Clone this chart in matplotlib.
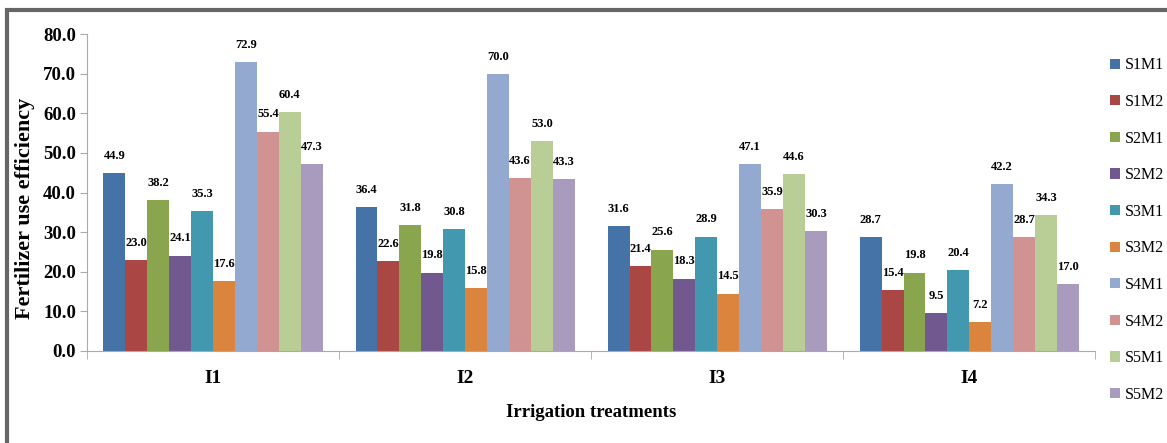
import numpy as np
import matplotlib
matplotlib.use("Agg")
import matplotlib.pyplot as plt
from matplotlib.patches import Rectangle

treatments = ["I1", "I2", "I3", "I4"]
series = ["S1M1", "S1M2", "S2M1", "S2M2", "S3M1", "S3M2", "S4M1", "S4M2", "S5M1", "S5M2"]
S1M1 = [44.9, 36.4, 31.6, 28.7]
S1M2 = [23.0, 22.6, 21.4, 15.4]
S2M1 = [38.2, 31.8, 25.6, 19.8]
S2M2 = [24.1, 19.8, 18.3, 9.5]
S3M1 = [35.3, 30.8, 28.9, 20.4]
S3M2 = [17.6, 15.8, 14.5, 7.2]
S4M1 = [72.9, 70.0, 47.1, 42.2]
S4M2 = [55.4, 43.6, 35.9, 28.7]
S5M1 = [60.4, 53.0, 44.6, 34.3]
S5M2 = [47.3, 43.3, 30.3, 17.0]
values = [S1M1, S1M2, S2M1, S2M2, S3M1, S3M2, S4M1, S4M2, S5M1, S5M2]

colors = ["#4572A7", "#AA4643", "#89A54E", "#71588F", "#4198AF",
          "#DB843D", "#93A9CF", "#D19392", "#B9CD96", "#A99BBD"]

plt.rcParams['font.family'] = ['Liberation Serif', 'DejaVu Serif']

fig = plt.figure(figsize=(11.67, 4.43), dpi=100)
ax = fig.add_axes([0.0746, 0.2077, 0.864, 0.7153])

n = len(series)
width = 0.087
x = np.arange(len(treatments))
for i, (name, vals, c) in enumerate(zip(series, values, colors)):
    pos = x + (i - (n - 1) / 2) * width
    bars = ax.bar(pos, vals, width, color=c, label=name)
    for b, v in zip(bars, vals):
        ax.annotate(f"{v:.1f}", (b.get_x() + b.get_width() / 2, v),
                    xytext=(0, 8), textcoords="offset points",
                    ha="center", va="bottom", fontsize=9, fontweight="bold")

ax.set_xlim(-0.5, len(treatments) - 0.5)
ax.set_ylim(0, 80)
ax.set_yticks(np.arange(0, 81, 10))
ax.set_yticklabels([f"{t:.1f}" for t in range(0, 81, 10)], fontsize=13.5, fontweight="bold")
ax.set_xticks(x)
ax.set_xticklabels(treatments, fontsize=14, fontweight="bold")
ax.set_xticks(np.arange(-0.5, len(treatments), 1), minor=True)
ax.tick_params(axis="x", which="major", length=0, pad=14)
ax.tick_params(axis="x", which="minor", length=6, color="#aaaaaa")
ax.tick_params(axis="y", length=5, color="#aaaaaa", pad=3)

for s in ["top", "right"]:
    ax.spines[s].set_visible(False)
ax.spines["left"].set_color("#aaaaaa")
ax.spines["bottom"].set_color("#aaaaaa")

ax.set_ylabel("Fertilizer use efficiency", fontsize=16, fontweight="bold")
ax.yaxis.set_label_coords(-0.052, 0.45)
ax.set_xlabel("Irrigation treatments", fontsize=13.5, fontweight="bold", labelpad=12)

leg = fig.legend(loc="upper left", bbox_to_anchor=(0.946, 0.885), frameon=False,
                 fontsize=11.5, handlelength=0.6, handleheight=0.6,
                 handletextpad=0.3, labelspacing=1.29, borderaxespad=0)

# gray frame around the figure
fig.patches.append(Rectangle((0.006, -0.05), 1.2, 1.028, transform=fig.transFigure,
                             fill=False, edgecolor="#666666", linewidth=3))

fig.savefig("out.png", dpi=100)
